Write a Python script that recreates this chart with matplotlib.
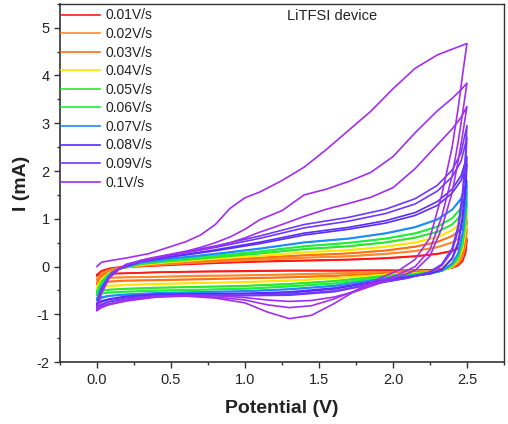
"""Cyclic voltammetry of the LiTFSI device at scan rates 0.01-0.1 V/s."""

import matplotlib
matplotlib.use("Agg")
import matplotlib.pyplot as plt
from matplotlib.ticker import MultipleLocator

plt.rcParams["font.family"] = ["Liberation Sans", "DejaVu Sans"]

# shared potential grids (V)
V_FWD = [0.0, 0.03, 0.08, 0.15, 0.3, 0.5, 0.8, 1.1, 1.4, 1.7, 1.95, 2.15, 2.3, 2.4, 2.46, 2.5]
V_REV = [2.5, 2.49, 2.47, 2.44, 2.4, 2.33, 2.25, 2.1, 1.9, 1.6, 1.3, 1.0, 0.7, 0.4, 0.2, 0.08, 0.03, 0.0]
V_FWD_FAST = [0.0, 0.03, 0.1, 0.2, 0.35, 0.5, 0.6, 0.7, 0.8, 0.9, 1.0, 1.1, 1.25, 1.4, 1.55, 1.7,
              1.85, 2.0, 2.15, 2.3, 2.4, 2.46, 2.5]
V_REV_FAST = [2.5, 2.49, 2.47, 2.44, 2.4, 2.33, 2.25, 2.15, 2.05, 1.9, 1.75, 1.6, 1.45, 1.3, 1.15,
              1.0, 0.8, 0.6, 0.4, 0.2, 0.08, 0.03, 0.0]

RATES = ["0.01V/s", "0.02V/s", "0.03V/s", "0.04V/s", "0.05V/s",
         "0.06V/s", "0.07V/s", "0.08V/s", "0.09V/s", "0.1V/s"]
COLORS = ["#ff1a1a", "#ff8a2a", "#ff7214", "#ffe600", "#2ee62e",
          "#1fee3a", "#1e8cff", "#5a2cff", "#7038ff", "#a02ff0"]

# anodic (forward) currents, mA, two cycles per rate
FWD_001 = [[-0.19, -0.10, -0.05, -0.02, 0.00, 0.03, 0.07, 0.10, 0.12, 0.14, 0.17, 0.21, 0.26, 0.32, 0.40, 0.58],
           [-0.17, -0.09, -0.04, -0.01, 0.01, 0.04, 0.08, 0.11, 0.13, 0.15, 0.18, 0.22, 0.27, 0.33, 0.42, 0.55]]
FWD_002 = [[-0.28, -0.16, -0.08, -0.03, 0.01, 0.05, 0.10, 0.14, 0.18, 0.21, 0.26, 0.32, 0.40, 0.50, 0.62, 0.80],
           [-0.26, -0.14, -0.07, -0.02, 0.02, 0.06, 0.11, 0.15, 0.19, 0.22, 0.27, 0.33, 0.41, 0.51, 0.61, 0.76]]
FWD_003 = [[-0.36, -0.22, -0.11, -0.04, 0.02, 0.07, 0.13, 0.18, 0.23, 0.27, 0.33, 0.41, 0.51, 0.64, 0.78, 1.00],
           [-0.34, -0.20, -0.10, -0.03, 0.03, 0.08, 0.14, 0.19, 0.24, 0.28, 0.34, 0.42, 0.52, 0.64, 0.77, 0.95]]
FWD_004 = [[-0.45, -0.28, -0.14, -0.05, 0.03, 0.09, 0.16, 0.22, 0.29, 0.34, 0.41, 0.50, 0.61, 0.76, 0.92, 1.15],
           [-0.43, -0.26, -0.13, -0.04, 0.04, 0.10, 0.17, 0.23, 0.30, 0.35, 0.42, 0.51, 0.62, 0.76, 0.91, 1.10]]
FWD_005 = [[-0.53, -0.33, -0.16, -0.05, 0.05, 0.11, 0.19, 0.27, 0.36, 0.42, 0.50, 0.60, 0.72, 0.88, 1.08, 1.35],
           [-0.51, -0.31, -0.15, -0.04, 0.06, 0.12, 0.20, 0.28, 0.37, 0.43, 0.51, 0.61, 0.73, 0.88, 1.06, 1.30]]
FWD_006 = [[-0.60, -0.38, -0.18, -0.05, 0.06, 0.13, 0.22, 0.31, 0.42, 0.49, 0.58, 0.69, 0.83, 1.01, 1.23, 1.55],
           [-0.58, -0.36, -0.17, -0.04, 0.07, 0.14, 0.23, 0.32, 0.43, 0.50, 0.59, 0.70, 0.84, 1.01, 1.21, 1.50]]
FWD_007 = [[-0.70, -0.44, -0.20, -0.05, 0.08, 0.16, 0.26, 0.37, 0.50, 0.58, 0.69, 0.82, 0.98, 1.19, 1.43, 1.80],
           [-0.67, -0.42, -0.19, -0.04, 0.09, 0.17, 0.27, 0.38, 0.51, 0.59, 0.70, 0.83, 0.99, 1.19, 1.40, 1.70]]
FWD_008 = [[-0.80, -0.50, -0.23, -0.05, 0.11, 0.21, 0.35, 0.51, 0.70, 0.82, 0.96, 1.13, 1.36, 1.62, 1.90, 2.30],
           [-0.78, -0.48, -0.22, -0.04, 0.11, 0.20, 0.33, 0.48, 0.66, 0.78, 0.91, 1.07, 1.28, 1.54, 1.80, 2.15]]
FWD_009 = [[-0.88, -0.55, -0.25, -0.05, 0.13, 0.25, 0.43, 0.64, 0.88, 1.03, 1.20, 1.42, 1.70, 2.02, 2.38, 2.95],
           [-0.86, -0.53, -0.24, -0.04, 0.13, 0.24, 0.40, 0.59, 0.81, 0.95, 1.11, 1.31, 1.58, 1.88, 2.20, 2.70]]
# 0.1 V/s has three cycles on the finer grid
FWD_010 = [[0.00, 0.09, 0.13, 0.18, 0.27, 0.42, 0.52, 0.66, 0.88, 1.22, 1.44, 1.56, 1.80, 2.08, 2.45, 2.85,
            3.25, 3.72, 4.15, 4.43, 4.55, 4.62, 4.67],
           [-0.90, -0.55, -0.12, 0.05, 0.17, 0.26, 0.32, 0.40, 0.50, 0.62, 0.78, 0.98, 1.17, 1.50, 1.62, 1.78,
            1.97, 2.30, 2.80, 3.26, 3.52, 3.70, 3.84],
           [-0.92, -0.56, -0.13, 0.04, 0.15, 0.24, 0.29, 0.35, 0.42, 0.50, 0.60, 0.72, 0.88, 1.05, 1.20, 1.32,
            1.45, 1.65, 2.05, 2.55, 2.88, 3.12, 3.35]]

# cathodic (reverse) currents, mA
REV_001 = [[0.58, 0.30, 0.12, 0.03, -0.02, -0.05, -0.07, -0.08, -0.08, -0.08, -0.08, -0.09, -0.10, -0.12, -0.14, -0.15, -0.17, -0.19],
           [0.55, 0.28, 0.11, 0.02, -0.03, -0.06, -0.07, -0.08, -0.08, -0.09, -0.09, -0.10, -0.11, -0.12, -0.14, -0.15, -0.16, -0.17]]
REV_002 = [[0.80, 0.48, 0.22, 0.07, -0.02, -0.07, -0.09, -0.10, -0.12, -0.15, -0.17, -0.19, -0.20, -0.22, -0.23, -0.24, -0.26, -0.28],
           [0.76, 0.45, 0.20, 0.06, -0.02, -0.07, -0.09, -0.10, -0.12, -0.14, -0.16, -0.18, -0.19, -0.21, -0.22, -0.23, -0.24, -0.26]]
REV_003 = [[1.00, 0.62, 0.30, 0.10, -0.01, -0.08, -0.11, -0.12, -0.15, -0.20, -0.23, -0.25, -0.27, -0.29, -0.30, -0.32, -0.34, -0.36],
           [0.95, 0.58, 0.28, 0.09, -0.01, -0.08, -0.11, -0.12, -0.15, -0.19, -0.22, -0.24, -0.26, -0.28, -0.29, -0.31, -0.32, -0.34]]
REV_004 = [[1.15, 0.75, 0.38, 0.13, 0.00, -0.09, -0.12, -0.14, -0.18, -0.25, -0.30, -0.33, -0.35, -0.37, -0.39, -0.41, -0.43, -0.45],
           [1.10, 0.71, 0.36, 0.12, 0.00, -0.09, -0.12, -0.14, -0.18, -0.24, -0.29, -0.32, -0.34, -0.36, -0.38, -0.40, -0.41, -0.43]]
REV_005 = [[1.35, 0.90, 0.47, 0.17, 0.02, -0.09, -0.13, -0.16, -0.21, -0.31, -0.37, -0.41, -0.43, -0.45, -0.47, -0.49, -0.51, -0.53],
           [1.30, 0.86, 0.45, 0.16, 0.02, -0.09, -0.13, -0.16, -0.21, -0.30, -0.36, -0.40, -0.42, -0.44, -0.46, -0.48, -0.50, -0.51]]
REV_006 = [[1.55, 1.05, 0.56, 0.21, 0.04, -0.09, -0.14, -0.18, -0.24, -0.36, -0.42, -0.47, -0.49, -0.51, -0.53, -0.55, -0.57, -0.60],
           [1.50, 1.01, 0.53, 0.20, 0.03, -0.09, -0.14, -0.18, -0.24, -0.35, -0.41, -0.46, -0.48, -0.50, -0.52, -0.54, -0.56, -0.58]]
REV_007 = [[1.80, 1.25, 0.70, 0.28, 0.07, -0.09, -0.15, -0.20, -0.27, -0.41, -0.48, -0.52, -0.54, -0.56, -0.59, -0.62, -0.66, -0.70],
           [1.70, 1.18, 0.66, 0.26, 0.06, -0.09, -0.15, -0.20, -0.27, -0.40, -0.47, -0.51, -0.53, -0.55, -0.58, -0.61, -0.64, -0.67]]
REV_008 = [[2.30, 1.70, 1.05, 0.50, 0.18, -0.06, -0.15, -0.22, -0.31, -0.47, -0.55, -0.57, -0.58, -0.59, -0.63, -0.69, -0.74, -0.80],
           [2.15, 1.58, 0.97, 0.46, 0.16, -0.06, -0.15, -0.22, -0.30, -0.45, -0.53, -0.56, -0.57, -0.58, -0.62, -0.68, -0.72, -0.78]]
REV_009 = [[2.95, 2.35, 1.55, 0.85, 0.38, 0.05, -0.11, -0.24, -0.35, -0.53, -0.60, -0.61, -0.61, -0.62, -0.67, -0.74, -0.81, -0.88],
           [2.70, 2.12, 1.38, 0.75, 0.32, 0.02, -0.12, -0.24, -0.34, -0.51, -0.58, -0.60, -0.60, -0.61, -0.66, -0.73, -0.79, -0.86]]
REV_010 = [[4.67, 4.45, 4.00, 3.30, 2.50, 1.50, 0.60, 0.15, -0.06, -0.26, -0.50, -0.78, -1.02, -1.09, -0.95,
            -0.76, -0.66, -0.62, -0.64, -0.72, -0.80, -0.86, -0.92],
           [3.84, 3.62, 3.20, 2.60, 1.90, 1.05, 0.35, 0.00, -0.15, -0.32, -0.50, -0.68, -0.82, -0.86, -0.80,
            -0.70, -0.64, -0.61, -0.63, -0.71, -0.79, -0.85, -0.91],
           [3.35, 3.15, 2.75, 2.20, 1.55, 0.80, 0.22, -0.08, -0.20, -0.36, -0.52, -0.64, -0.71, -0.73, -0.70,
            -0.65, -0.61, -0.60, -0.62, -0.70, -0.78, -0.84, -0.90]]

FWD = [FWD_001, FWD_002, FWD_003, FWD_004, FWD_005, FWD_006, FWD_007, FWD_008, FWD_009, FWD_010]
REV = [REV_001, REV_002, REV_003, REV_004, REV_005, REV_006, REV_007, REV_008, REV_009, REV_010]

TEXT = "#222222"


def main() -> None:
    fig = plt.figure(figsize=(5.08, 4.24), dpi=100, facecolor="white")
    ax = fig.add_axes([0.118, 0.146, 0.874, 0.845])

    for idx, (rate, color) in enumerate(zip(RATES, COLORS)):
        fast = idx == len(RATES) - 1
        v_fwd = V_FWD_FAST if fast else V_FWD
        v_rev = V_REV_FAST if fast else V_REV
        for cycle, (i_fwd, i_rev) in enumerate(zip(FWD[idx], REV[idx])):
            label = rate if cycle == 0 else None
            ax.plot(v_fwd + v_rev, i_fwd + i_rev, color=color, linewidth=1.2,
                    solid_joinstyle="round", label=label)

    ax.set_xlim(-0.25, 2.75)
    ax.set_ylim(-2, 5.5)
    ax.xaxis.set_major_locator(MultipleLocator(0.5))
    ax.xaxis.set_minor_locator(MultipleLocator(0.25))
    ax.yaxis.set_major_locator(MultipleLocator(1))
    ax.yaxis.set_minor_locator(MultipleLocator(0.5))
    ax.xaxis.set_major_formatter(lambda v, _: f"{v:.1f}")
    ax.yaxis.set_major_formatter(lambda v, _: f"{v:.0f}")
    ax.tick_params(which="major", direction="out", length=4, width=1, labelsize=10.5,
                   colors="#333333", labelcolor=TEXT)
    ax.tick_params(which="minor", direction="out", length=2.5, width=1, colors="#333333")
    for side in ("top", "right"):
        ax.spines[side].set_linewidth(1.0)
    for side in ("left", "bottom"):
        ax.spines[side].set_linewidth(1.2)
    for spine in ax.spines.values():
        spine.set_color("#333333")

    ax.set_xlabel("Potential (V)", fontsize=14, fontweight="bold", color=TEXT, labelpad=10)
    ax.set_ylabel("I (mA)", fontsize=14, fontweight="bold", color=TEXT, labelpad=5)
    ax.text(0.512, 0.985, "LiTFSI device", transform=ax.transAxes, ha="left", va="top",
            fontsize=10.5, color=TEXT)

    ax.legend(loc="upper left", bbox_to_anchor=(-0.003, 0.995), frameon=False, fontsize=10,
              handlelength=2.8, handletextpad=0.35, labelspacing=0.33, borderpad=0.2,
              borderaxespad=0.0, labelcolor=TEXT)

    fig.savefig("out.png", dpi=100, facecolor="white")
    plt.close(fig)


if __name__ == "__main__":
    main()
